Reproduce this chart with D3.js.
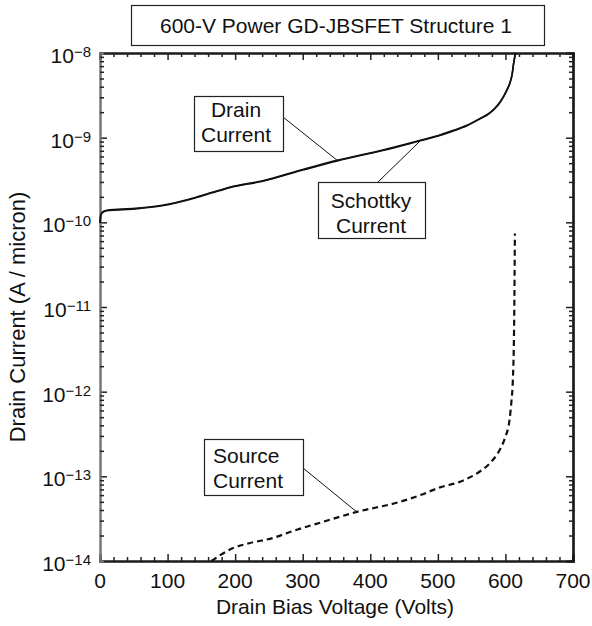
<!DOCTYPE html>
<html>
<head>
<meta charset="utf-8">
<script src="https://cdn.jsdelivr.net/npm/d3@7"></script>
<style>
  body { margin: 0; background: #fff; }
  text { font-family: "Liberation Sans", Arial, sans-serif; fill: #111; }
</style>
</head>
<body>
<div id="chart"></div>
<script>
// Drain current (A/micron) vs drain bias voltage (V)
var drainV = [0, 1, 3, 10, 52, 92, 141, 166, 192, 241, 300, 351, 420, 474, 498, 523, 543, 562, 575, 585, 592, 598, 603, 607, 610, 612, 615];
var drainI = [1.0e-10, 1.2e-10, 1.31e-10, 1.39e-10, 1.46e-10, 1.59e-10, 1.97e-10, 2.26e-10, 2.6e-10, 3.1e-10,
              4.2e-10, 5.4e-10, 7.2e-10, 9.3e-10, 1.045e-9, 1.22e-9, 1.4e-9, 1.68e-9, 1.92e-9, 2.26e-9, 2.64e-9,
              3.16e-9, 3.79e-9, 4.54e-9, 5.7e-9, 7.5e-9, 1.0e-8];

var schottkyV = [0, 1, 3, 10, 52, 92, 141, 166, 192, 241, 300, 351, 420, 474, 498, 523, 543, 562, 575, 585, 592, 598, 603, 607, 610, 612, 615];
var schottkyI = [0.98e-10, 1.18e-10, 1.29e-10, 1.37e-10, 1.44e-10, 1.57e-10, 1.94e-10, 2.23e-10, 2.57e-10, 3.06e-10,
                 4.14e-10, 5.32e-10, 7.1e-10, 9.18e-10, 1.03e-9, 1.2e-9, 1.38e-9, 1.66e-9, 1.9e-9, 2.23e-9, 2.6e-9,
                 3.12e-9, 3.74e-9, 4.48e-9, 5.6e-9, 7.4e-9, 1.0e-8];

var sourceV = [165, 197, 222, 256, 281, 330, 380, 444, 474, 503, 533, 562, 577, 590, 599, 606, 609, 611, 613, 614];
var sourceI = [1.0e-14, 1.42e-14, 1.63e-14, 1.87e-14, 2.2e-14, 2.9e-14, 3.8e-14, 5.0e-14, 6.0e-14, 7.4e-14,
               8.65e-14, 1.14e-13, 1.43e-13, 1.95e-13, 2.8e-13, 4.6e-13, 7.9e-13, 1.37e-12, 7.6e-12, 7.4e-11];

var xTicks = [0, 100, 200, 300, 400, 500, 600, 700];
var yExponents = [-8, -9, -10, -11, -12, -13, -14];

var titleText = "600-V Power GD-JBSFET Structure 1";
var xLabel = "Drain Bias Voltage (Volts)";
var yLabel = "Drain Current (A / micron)";

var W = 592, H = 626;
var margin = { top: 53, right: 19, bottom: 65, left: 100 };
var width = W - margin.left - margin.right,
    height = H - margin.top - margin.bottom;

var svg = d3.select("#chart").append("svg")
    .attr("width", W)
    .attr("height", H);

var g = svg.append("g")
    .attr("transform", "translate(" + margin.left + "," + margin.top + ")");

var x = d3.scaleLinear().domain([0, 700]).range([0, width]);
var y = d3.scaleLog().domain([1e-14, 1e-8]).range([height, 0]);

// minor ticks
var xMinor = d3.range(0, 701, 20).filter(function(d) { return d % 100 !== 0; });
var yMajor = yExponents.map(function(p) { return Math.pow(10, p); });
var yMinor = [];
for (var e = -14; e < -8; e++) {
    for (var m = 2; m <= 9; m++) yMinor.push(m * Math.pow(10, e));
}

// all ticks point into the plot
var axBottom = g.append("g").attr("transform", "translate(0," + height + ")");
axBottom.call(d3.axisTop(x).tickValues(xTicks).tickSize(7).tickFormat(""));
axBottom.append("g").call(d3.axisTop(x).tickValues(xMinor).tickSize(4).tickFormat(""));

var axTop = g.append("g");
axTop.call(d3.axisBottom(x).tickValues(xTicks).tickSize(7).tickFormat(""));
axTop.append("g").call(d3.axisBottom(x).tickValues(xMinor).tickSize(4).tickFormat(""));

var axLeft = g.append("g");
axLeft.call(d3.axisRight(y).tickValues(yMajor).tickSize(7).tickFormat(""));
axLeft.append("g").call(d3.axisRight(y).tickValues(yMinor).tickSize(4).tickFormat(""));

var axRight = g.append("g").attr("transform", "translate(" + width + ",0)");
axRight.call(d3.axisLeft(y).tickValues(yMajor).tickSize(7).tickFormat(""));
axRight.append("g").call(d3.axisLeft(y).tickValues(yMinor).tickSize(4).tickFormat(""));

g.selectAll(".domain").attr("stroke", "#1a1a1a").attr("stroke-width", 2.2);
g.selectAll(".tick line").attr("stroke", "#222").attr("stroke-width", 1.5);
axLeft.selectAll(".domain").attr("stroke", "#777").attr("stroke-width", 2);

// tick labels
g.selectAll(".xlab").data(xTicks).enter().append("text")
    .attr("x", function(d) { return x(d); })
    .attr("y", height + 27)
    .attr("text-anchor", "middle")
    .attr("font-size", 21)
    .text(function(d) { return d; });

var yl = g.selectAll(".ylab").data(yExponents).enter().append("text")
    .attr("x", -9)
    .attr("y", function(d) { return y(Math.pow(10, d)) + 10; })
    .attr("text-anchor", "end")
    .attr("font-size", 21);
yl.append("tspan").text("10");
yl.append("tspan").attr("dy", -6).attr("font-size", 15)
    .text(function(d) { return "\u2212" + (-d); });

// axis titles
svg.append("text")
    .attr("x", 335)
    .attr("y", 614)
    .attr("text-anchor", "middle")
    .attr("font-size", 21)
    .text(xLabel);

svg.append("text")
    .attr("transform", "translate(25,317) rotate(-90)")
    .attr("text-anchor", "middle")
    .attr("font-size", 22)
    .text(yLabel);

// title box
svg.append("rect")
    .attr("x", 131.5).attr("y", 5.5).attr("width", 413).attr("height", 40)
    .attr("fill", "#fff").attr("stroke", "#222").attr("stroke-width", 1.2);
svg.append("text")
    .attr("x", 336).attr("y", 33)
    .attr("text-anchor", "middle")
    .attr("font-size", 21)
    .text(titleText);

// curves
var line = d3.line()
    .x(function(d) { return x(d[0]); })
    .y(function(d) { return y(d[1]); })
    .curve(d3.curveMonotoneX);

g.append("path")
    .datum(d3.zip(schottkyV, schottkyI))
    .attr("fill", "none").attr("stroke", "#111").attr("stroke-width", 1.6)
    .attr("d", line);
g.append("path")
    .datum(d3.zip(drainV, drainI))
    .attr("fill", "none").attr("stroke", "#111").attr("stroke-width", 1.6)
    .attr("d", line);
g.append("path")
    .datum(d3.zip(sourceV, sourceI))
    .attr("fill", "none").attr("stroke", "#111").attr("stroke-width", 2.2)
    .attr("stroke-dasharray", "6,4")
    .attr("d", line);

// callouts: box in page pixels, pointer to a data point
function callout(bx, by, bw, bh, lines, tx, anchor, base, from, to) {
    svg.append("line")
        .attr("x1", from[0]).attr("y1", from[1])
        .attr("x2", margin.left + x(to[0])).attr("y2", margin.top + y(to[1]))
        .attr("stroke", "#111").attr("stroke-width", 1);
    svg.append("rect")
        .attr("x", bx + 0.5).attr("y", by + 0.5).attr("width", bw).attr("height", bh)
        .attr("fill", "#fff").attr("stroke", "#222").attr("stroke-width", 1.2);
    lines.forEach(function(s, i) {
        svg.append("text")
            .attr("x", tx).attr("y", by + base + i * 25)
            .attr("text-anchor", anchor)
            .attr("font-size", 21)
            .text(s);
    });
}

callout(194, 96, 89, 55, ["Drain", "Current"], 236, "middle", 21, [283, 117], [351, 5.4e-10]);
callout(318, 182, 107, 56, ["Schottky", "Current"], 371, "middle", 26, [378, 182], [474, 9.18e-10]);
callout(204, 439, 99, 56, ["Source", "Current"], 213, "start", 24, [303, 468], [380, 3.8e-14]);
</script>
</body>
</html>
